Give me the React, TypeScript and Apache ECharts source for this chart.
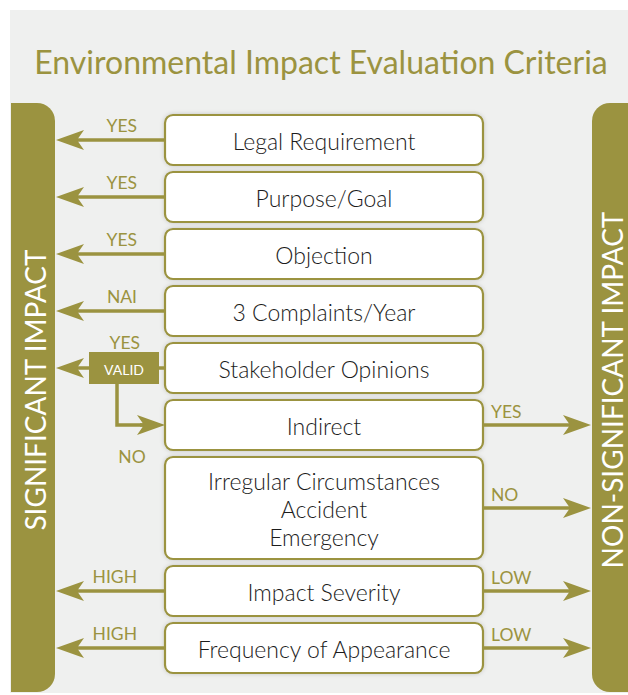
import React, { useEffect, useRef } from "react";
import * as echarts from "echarts";

const title = "Environmental Impact Evaluation Criteria";
const leftBarLabel = "SIGNIFICANT IMPACT";
const rightBarLabel = "NON-SIGNIFICANT IMPACT";
const criteria = [
  "Legal Requirement",
  "Purpose/Goal",
  "Objection",
  "3 Complaints/Year",
  "Stakeholder Opinions",
  "Indirect",
  "Irregular Circumstances\nAccident\nEmergency",
  "Impact Severity",
  "Frequency of Appearance",
];
const leftLabels = ["YES", "YES", "YES", "NAI", "", "", "", "HIGH", "HIGH"];
const rightLabels = ["", "", "", "", "", "YES", "NO", "LOW", "LOW"];
const validLabel = "VALID";
const validYes = "YES";
const validNo = "NO";

const OLIVE = "#9b9340";
const FONT = "Lato, 'Open Sans', sans-serif";

export default function App() {
  const ref = useRef<HTMLDivElement>(null);
  useEffect(() => {
    if (!ref.current) return;
    const chart = echarts.init(ref.current, null, { renderer: "svg" });
    const g: any[] = [];
    g.push({ type: "rect", shape: { x: 10, y: 10, width: 618, height: 683 }, style: { fill: "#eff0ef" } });
    g.push({
      type: "text", x: 321, y: 61,
      style: { text: title, fill: OLIVE, font: `32px ${FONT}`, textAlign: "center", textVerticalAlign: "middle" },
    });
    g.push({ type: "rect", shape: { x: 11, y: 103, width: 44, height: 589, r: [0, 18, 18, 0] }, style: { fill: OLIVE } });
    g.push({ type: "rect", shape: { x: 592, y: 103, width: 36, height: 589, r: [18, 0, 0, 18] }, style: { fill: OLIVE } });
    g.push({
      type: "text", x: 35, y: 390, rotation: Math.PI / 2,
      style: { text: leftBarLabel, fill: "#fff", font: `28px ${FONT}`, textAlign: "center", textVerticalAlign: "middle" },
    });
    g.push({
      type: "text", x: 612, y: 390, rotation: Math.PI / 2,
      style: { text: rightBarLabel, fill: "#fff", font: `28px ${FONT}`, textAlign: "center", textVerticalAlign: "middle" },
    });

    const arrow = (x1: number, x2: number, y: number) => {
      const dir = x2 > x1 ? 1 : -1;
      g.push({ type: "line", shape: { x1, y1: y, x2: x2 - dir * 20, y2: y }, style: { stroke: OLIVE, lineWidth: 3.5 } });
      g.push({
        type: "polygon",
        shape: { points: [[x2, y], [x2 - dir * 28, y - 10], [x2 - dir * 21, y], [x2 - dir * 28, y + 10]] },
        style: { fill: OLIVE },
      });
    };
    const label = (text: string, x: number, y: number, align: string) => {
      g.push({
        type: "text", x, y,
        style: { text, fill: OLIVE, font: `17.5px ${FONT}`, textAlign: align, textVerticalAlign: "middle" },
      });
    };

    const boxX = 165, boxW = 318, gap = 7;
    const heights = criteria.map((c) => (c.includes("\n") ? 102 : 50));
    let y = 115;
    criteria.forEach((c, i) => {
      const h = heights[i];
      const cy = y + h / 2;
      g.push({
        type: "rect", shape: { x: boxX, y, width: boxW, height: h, r: 8 },
        style: { fill: "#fff", stroke: OLIVE, lineWidth: 2.2, shadowBlur: 4, shadowColor: "rgba(0,0,0,0.18)" },
      });
      g.push({
        type: "text", x: boxX + boxW / 2, y: cy + 1,
        style: { text: c, fill: "#1c1c1c", font: `300 23px ${FONT}`, textAlign: "center", textVerticalAlign: "middle", lineHeight: 28 },
      });
      if (leftLabels[i]) {
        arrow(boxX, 56, cy);
        label(leftLabels[i], 137, cy - 15, "right");
      }
      if (rightLabels[i]) {
        arrow(boxX + boxW, 591, cy);
        label(rightLabels[i], 491, cy - 14, "left");
      }
      if (i === 4) {
        g.push({ type: "line", shape: { x1: 159, y1: cy, x2: boxX, y2: cy }, style: { stroke: OLIVE, lineWidth: 3.5 } });
        g.push({ type: "rect", shape: { x: 89, y: cy - 16, width: 70, height: 32 }, style: { fill: OLIVE } });
        g.push({
          type: "text", x: 124, y: cy + 1,
          style: { text: validLabel, fill: "#fff", font: `14px ${FONT}`, textAlign: "center", textVerticalAlign: "middle" },
        });
        arrow(89, 56, cy);
        label(validYes, 140, cy - 26, "right");
        const ny = y + h + gap + 25;
        g.push({ type: "polyline", shape: { points: [[117, cy + 16], [117, ny], [145, ny]] }, style: { stroke: OLIVE, lineWidth: 3.5, fill: "none" } });
        arrow(140, boxX, ny);
        label(validNo, 132, ny + 31, "center");
      }
      y += h + gap;
    });

    chart.setOption({ animation: false, graphic: { elements: g } });
    return () => chart.dispose();
  }, []);
  return <div ref={ref} style={{ position: "absolute", left: 0, top: 0, width: 628, height: 695 }} />;
}
